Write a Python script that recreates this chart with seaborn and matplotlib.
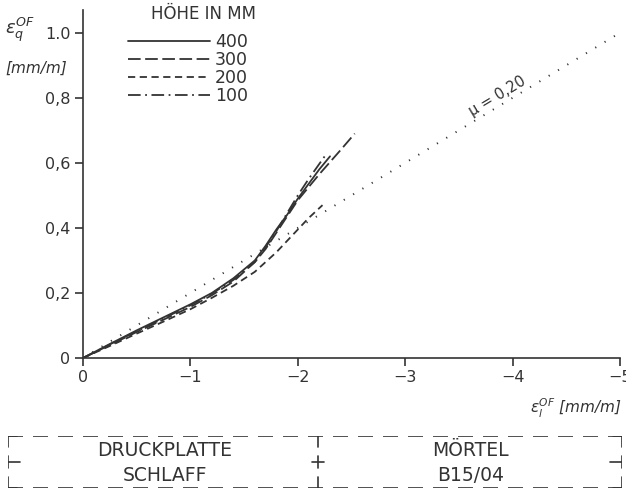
import matplotlib
matplotlib.use('Agg')
import matplotlib.pyplot as plt
import pandas as pd
import seaborn as sns
from matplotlib.lines import Line2D

# data (x = eps_l, y = eps_q, both in mm/m)
x_400 = [0, -0.25, -0.5, -0.75, -1.0, -1.2, -1.4, -1.6, -1.7, -1.8, -1.9, -2.0, -2.1, -2.2, -2.3]
y_400 = [0, 0.043, 0.085, 0.125, 0.165, 0.2, 0.245, 0.30, 0.345, 0.395, 0.44, 0.49, 0.535, 0.58, 0.62]
x_300 = [0, -0.25, -0.5, -0.75, -1.0, -1.2, -1.4, -1.6, -1.7, -1.8, -1.9, -2.0, -2.2, -2.4, -2.53]
y_300 = [0, 0.04, 0.08, 0.118, 0.157, 0.193, 0.235, 0.295, 0.335, 0.385, 0.435, 0.485, 0.565, 0.64, 0.69]
x_200 = [0, -0.25, -0.5, -0.75, -1.0, -1.2, -1.4, -1.6, -1.8, -2.0, -2.1, -2.23]
y_200 = [0, 0.037, 0.075, 0.112, 0.15, 0.185, 0.222, 0.265, 0.325, 0.395, 0.43, 0.47]
x_100 = [0, -0.25, -0.5, -0.75, -1.0, -1.2, -1.4, -1.6, -1.7, -1.8, -1.9, -2.0, -2.1, -2.25]
y_100 = [0, 0.042, 0.082, 0.122, 0.162, 0.198, 0.24, 0.295, 0.34, 0.39, 0.445, 0.5, 0.55, 0.62]
heights = ['400', '300', '200', '100']
mu_x = [0, -5]
mu_y = [0, 1.0]

y_ticks = [0, 0.2, 0.4, 0.6, 0.8, 1.0]
y_ticklabels = ['0', '0,2', '0,4', '0,6', '0,8', '1.0']
x_ticks = [0, -1, -2, -3, -4, -5]
x_ticklabels = ['0', '−1', '−2', '−3', '−4', '−5']

sns.set_style('ticks')
plt.rcParams['font.family'] = ['DejaVu Sans']
ink = '#333333'

series = {'400': (x_400, y_400), '300': (x_300, y_300),
          '200': (x_200, y_200), '100': (x_100, y_100)}
styles = {'400': '-', '300': (0, (7, 2.5)), '200': (0, (4, 2.5)),
          '100': (0, (7, 2.5, 1, 2.5))}

fig = plt.figure(figsize=(6.26, 4.91), dpi=100)
ax = fig.add_axes([83/626, 133/491, 537/626, 348/491])

for h in heights:
    xs, ys = series[h]
    df = pd.DataFrame({'x': xs, 'y': ys})
    sns.lineplot(data=df, x='x', y='y', ax=ax, color=ink, lw=1.3,
                 linestyle=styles[h], sort=False, estimator=None)

sns.lineplot(x=mu_x, y=mu_y, ax=ax, color=ink, lw=1.4,
             linestyle=(0, (0.6, 5)), sort=False, estimator=None)
ax.text(-3.86, 0.805, 'μ = 0,20', rotation=31, ha='center', va='center',
        fontsize=10.5, color=ink)

ax.set_xlim(0, -5)
ax.set_ylim(0, 1.07)
ax.set_xticks(x_ticks)
ax.set_xticklabels(x_ticklabels)
ax.set_yticks(y_ticks)
ax.set_yticklabels(y_ticklabels)
ax.set_xlabel('')
ax.set_ylabel('')
sns.despine(ax=ax)
for s in ['left', 'bottom']:
    ax.spines[s].set_color(ink)
    ax.spines[s].set_linewidth(1.2)
ax.tick_params(direction='out', length=6, width=1.2, colors=ink,
               labelsize=11.5, labelcolor=ink, pad=3)

handles = [Line2D([], [], color=ink, lw=1.3, linestyle=styles[h]) for h in heights]
leg = ax.legend(handles, heights, loc='upper left',
                bbox_to_anchor=(0.0838, 0.934), frameon=False, fontsize=12.5,
                handlelength=4.72, handletextpad=0.29, labelspacing=0,
                borderpad=0, borderaxespad=0)
for t in leg.get_texts():
    t.set_color(ink)
fig.text(256/626, 1 - 14/491, 'HÖHE IN MM', ha='right', va='center',
         fontsize=12, color=ink)

fig.text(5/626, 1 - 30/491, r'$\varepsilon_q^{OF}$', fontsize=13, color=ink,
         va='center')
fig.text(5/626, 1 - 68/491, '[mm/m]', fontsize=11, style='italic', color=ink,
         va='center')
fig.text(622/626, 1 - 408/491, r'$\varepsilon_l^{OF}$ [mm/m]', fontsize=11,
         style='italic', color=ink, ha='right', va='center')

# dashed info box below the chart
bx = fig.add_axes([8/626, 3/491, 614/626, 52/491])
bx.set_xlim(0, 1)
bx.set_ylim(0, 1)
bx.axis('off')
dash = (0, (9, 6))
for yv in [0, 1]:
    bx.plot([0, 1], [yv, yv], color=ink, lw=1.2, linestyle=dash)
for xv in [0, 0.505, 1]:
    for y0, y1 in [(0.78, 1), (0.38, 0.62), (0, 0.22)]:
        bx.plot([xv, xv], [y0, y1], color=ink, lw=1.2)
bx.plot([0, 0.02], [0.5, 0.5], color=ink, lw=1.2)
bx.plot([0.495, 0.515], [0.5, 0.5], color=ink, lw=1.2)
bx.plot([0.98, 1], [0.5, 0.5], color=ink, lw=1.2)
for x0, x1 in [(0, 0.015), (0.985, 1)]:
    bx.plot([x0, x1], [1, 1], color=ink, lw=1.2)
    bx.plot([x0, x1], [0, 0], color=ink, lw=1.2)
bx.text(0.255, 0.73, 'DRUCKPLATTE', ha='center', va='center', fontsize=13.5, color=ink)
bx.text(0.255, 0.24, 'SCHLAFF', ha='center', va='center', fontsize=13.5, color=ink)
bx.text(0.753, 0.73, 'MÖRTEL', ha='center', va='center', fontsize=13.5, color=ink)
bx.text(0.753, 0.24, 'B15/04', ha='center', va='center', fontsize=13.5, color=ink)

fig.savefig('out.png', dpi=100)
